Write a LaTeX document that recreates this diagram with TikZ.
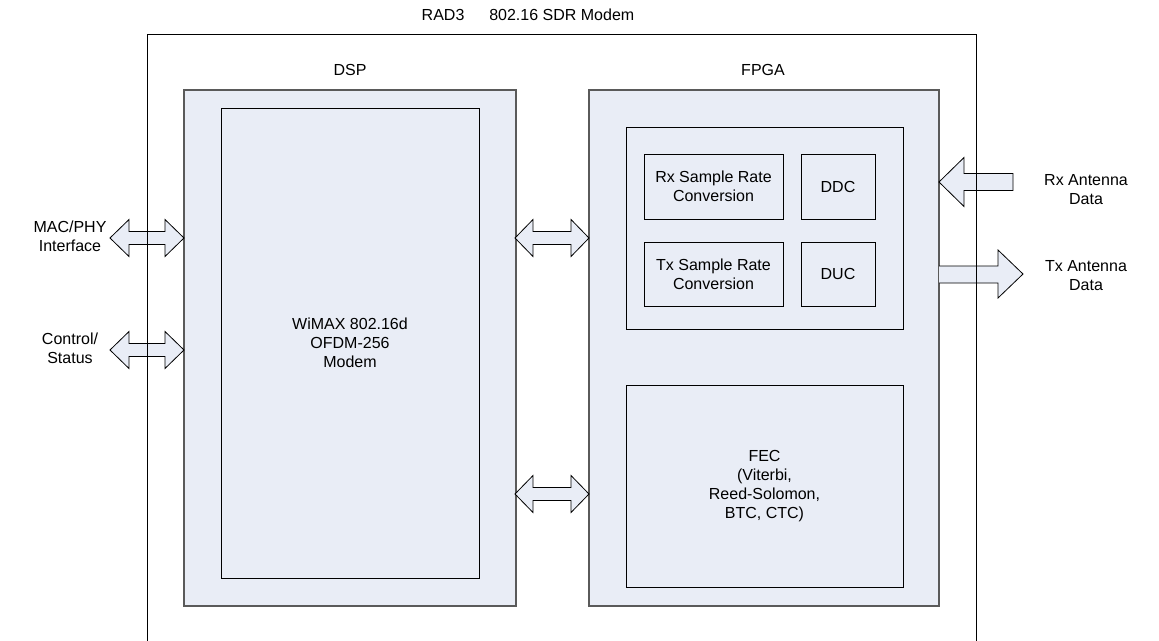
\documentclass[tikz,border=0pt]{standalone}
\usepackage{fontspec}
\setmainfont{Liberation Sans}
\definecolor{boxfill}{RGB}{233,237,246}
\definecolor{outerline}{RGB}{90,90,90}
\tikzset{
  lbl/.style={font=\fontsize{16}{19}\selectfont, align=center, inner sep=0pt},
  chip/.style={draw=outerline, fill=boxfill, line width=1.2pt},
  blk/.style={draw=black, fill=boxfill, line width=0.9pt},
  barrow/.style={draw=black, fill=boxfill, line width=0.8pt, line join=miter},
}
\begin{document}
\begin{tikzpicture}[x=1pt,y=-1pt]
\useasboundingbox (0,0) rectangle (1159,640);
% outer box (bottom edge outside the picture)
\draw[line width=1pt] (147,645) -- (147,34) -- (976,34) -- (976,645);
\node[lbl] (title) at (528,15) {RAD3\quad\ \ 802.16 SDR Modem};
% DSP
\node[lbl] (dsplbl) at (350,70) {DSP};
\path[chip] (184,90) rectangle (516,606);
\coordinate (dsp) at (350,348);
\node[blk, minimum width=258pt, minimum height=470pt, inner sep=0pt] (wimax) at (350,343) {};
\node[lbl] (wimaxtxt) at (wimax.center) {WiMAX 802.16d\\OFDM-256\\Modem};
% FPGA
\node[lbl] (fpgalbl) at (763,70) {FPGA};
\path[chip] (589,90) rectangle (939,606);
\path[blk] (626,127) rectangle (903,329);
\node[blk, minimum width=139pt, minimum height=65pt, inner sep=0pt, lbl] (rxsrc) at (713.5,186.5) {Rx Sample Rate\\Conversion};
\node[blk, minimum width=74pt, minimum height=65pt, inner sep=0pt, lbl] (ddc) at (838,186.5) {DDC};
\node[blk, minimum width=139pt, minimum height=64pt, inner sep=0pt, lbl] (txsrc) at (713.5,274) {Tx Sample Rate\\Conversion};
\node[blk, minimum width=74pt, minimum height=64pt, inner sep=0pt, lbl] (duc) at (838,274) {DUC};
\node[blk, minimum width=277pt, minimum height=202pt, inner sep=0pt, lbl] (fec) at (764.5,486) {FEC\\(Viterbi,\\Reed-Solomon,\\BTC, CTC)};
% left labels
\node[lbl] (macphy) at (70,236) {MAC/PHY\\Interface};
\node[lbl] (ctrl) at (70,348) {Control/\\Status};
% right labels
\node[lbl] (rxant) at (1086,190) {Rx Antenna\\Data};
\node[lbl] (txant) at (1086,276) {Tx Antenna\\Data};
% double arrows
\foreach \cy in {238,350}{
  \draw[barrow] (110,\cy) -- (129,\cy-18.5) -- (129,\cy-6.5) -- (165,\cy-6.5) -- (165,\cy-18.5)
    -- (184,\cy) -- (165,\cy+18.5) -- (165,\cy+6.5) -- (129,\cy+6.5) -- (129,\cy+18.5) -- cycle;
}
\foreach \cy in {238,494}{
  \draw[barrow] (515,\cy) -- (533,\cy-18.5) -- (533,\cy-6.5) -- (571,\cy-6.5) -- (571,\cy-18.5)
    -- (589,\cy) -- (571,\cy+18.5) -- (571,\cy+6.5) -- (533,\cy+6.5) -- (533,\cy+18.5) -- cycle;
}
% Rx arrow (into FPGA)
\draw[barrow] (939,182) -- (964,157.5) -- (964,173.5) -- (1013,173.5) -- (1013,190.5)
  -- (964,190.5) -- (964,206.5) -- cycle;
% Tx arrow (out of FPGA)
\draw[barrow] (939,266) -- (998,266) -- (998,250) -- (1023,274) -- (998,298) -- (998,283)
  -- (939,283);
% redraw outer line across the arrows
\draw[line width=1pt] (976,150) -- (976,310);
\draw[line width=1pt] (147,210) -- (147,380);
\end{tikzpicture}
\end{document}
